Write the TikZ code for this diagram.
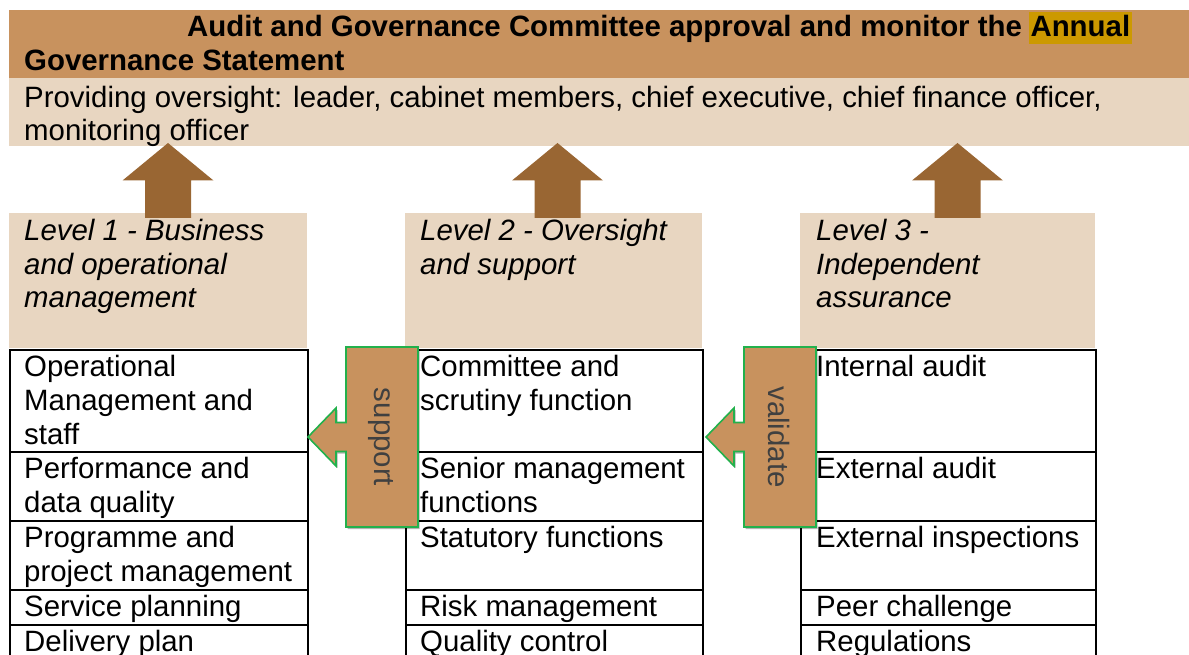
\documentclass[tikz,border=0pt]{standalone}
\usepackage{fontspec}
\setmainfont{Liberation Sans}
\usetikzlibrary{shadows}

\definecolor{bandDark}{RGB}{200,146,94}
\definecolor{bandLight}{RGB}{232,214,193}
\definecolor{arrowBrown}{RGB}{153,102,51}
\definecolor{hiGold}{RGB}{204,153,0}
\definecolor{calloutGreen}{RGB}{34,177,76}
\definecolor{calloutText}{RGB}{64,64,64}

% strut that gives the first line of a text block its full ascent
\newcommand{\fl}{\rule{0pt}{26.4pt}}
\newcommand{\bodyfont}{\fontsize{29.4}{33.6}\selectfont}

\begin{document}
\begin{tikzpicture}[x=1pt,y=-1pt,
  txt/.style={inner sep=0pt,align=left,font=\bodyfont},
  boxtext/.style={txt,anchor=north west},
  lvlhead/.style={fill=bandLight,draw=none,anchor=north west,inner sep=0pt,minimum height=135pt},
  cellbox/.style={draw=black,line width=1.5pt,anchor=north west,inner sep=0pt},
  uparrow/.style={fill=arrowBrown,draw=none},
  callout/.style={fill=bandDark,draw=calloutGreen,line width=1.6pt,line join=miter,
    drop shadow={shadow xshift=1.5pt,shadow yshift=-2pt,opacity=0.3,fill=black}},
  callouttext/.style={txt,rotate=-90,text=calloutText}
]
\useasboundingbox (0,0) rectangle (1189,655);
\clip (0,0) rectangle (1189,655);

% ---- committee band ----
\node (band) [fill=bandDark,anchor=north west,inner sep=0pt,minimum width=1181pt,minimum height=68pt] at (8.5,10) {};
\node (bandlow) [fill=bandLight,anchor=north west,inner sep=0pt,minimum width=1181pt,minimum height=68pt] at (8.5,78) {};

\node (title1) [txt,anchor=base west,font=\bodyfont\bfseries] at (187,37)
  {Audit and Governance Committee approval and monitor the};
\node (title2) [txt,anchor=base west,fill=hiGold,inner xsep=2pt,font=\bodyfont\bfseries]
  at ([xshift=6.2pt]title1.base east) {\rule[-7pt]{0pt}{32pt}Annual};
\node (title3) [txt,anchor=base west,font=\bodyfont\bfseries] at (24,70.6)
  {Governance Statement};
\node (oversight) [boxtext] at (24,80.8)
  {\fl Providing oversight: leader, cabinet members, chief executive, chief finance officer,\\monitoring officer};

% ---- level headers ----
\node (lv1) [lvlhead,minimum width=298pt] at (9,213) {};
\node (lv2) [lvlhead,minimum width=297pt] at (405,213) {};
\node (lv3) [lvlhead,minimum width=295pt] at (800,213) {};
\node (lv1t) [boxtext,font=\bodyfont\itshape] at (24,213.8)
  {\fl Level 1 - Business\\and operational\\management};
\node (lv2t) [boxtext,font=\bodyfont\itshape] at (420,213.8)
  {\fl Level 2 - Oversight\\and support};
\node (lv3t) [boxtext,font=\bodyfont\itshape] at (816,213.8)
  {\fl Level 3 -\\Independent\\assurance};

% ---- upward arrows into the band ----
\foreach \cx in {168, 557.5, 957.5}{
  \fill[uparrow] (\cx,143) -- (\cx+45.5,180.5) -- (\cx+23,180.5) -- (\cx+23,218)
    -- (\cx-23,218) -- (\cx-23,180.5) -- (\cx-45.5,180.5) -- cycle;
}

% ---- table cells ----
\foreach \x/\w/\c in {9/298/1, 405/297/2, 800/295/3}{
  \node (r1c\c) [cellbox,minimum width=\w pt,minimum height=102pt] at (\x,349) {};
  \node (r2c\c) [cellbox,minimum width=\w pt,minimum height=69pt] at (\x,451) {};
  \node (r3c\c) [cellbox,minimum width=\w pt,minimum height=69pt] at (\x,520) {};
  \node (r4c\c) [cellbox,minimum width=\w pt,minimum height=35pt] at (\x,589) {};
  \node (r5c\c) [cellbox,minimum width=\w pt,minimum height=60pt] at (\x,624) {};
}

% column 1
\node (t11) [boxtext] at (24,350.3) {\fl Operational\\Management and\\staff};
\node (t21) [boxtext] at (24,452.3) {\fl Performance and\\data quality};
\node (t31) [boxtext] at (24,521.3) {\fl Programme and\\project management};
\node (t41) [boxtext] at (24,590.3) {\fl Service planning};
\node (t51) [boxtext] at (24,625.3) {\fl Delivery plan};
% column 2
\node (t12) [boxtext] at (420,350.3) {\fl Committee and\\scrutiny function};
\node (t22) [boxtext] at (420,452.3) {\fl Senior management\\functions};
\node (t32) [boxtext] at (420,521.3) {\fl Statutory functions};
\node (t42) [boxtext] at (420,590.3) {\fl Risk management};
\node (t52) [boxtext] at (420,625.3) {\fl Quality control};
% column 3
\node (t13) [boxtext] at (816,350.3) {\fl Internal audit};
\node (t23) [boxtext] at (816,452.3) {\fl External audit};
\node (t33) [boxtext] at (816,521.3) {\fl External inspections};
\node (t43) [boxtext] at (816,590.3) {\fl Peer challenge};
\node (t53) [boxtext] at (816,625.3) {\fl Regulations};

% ---- left-pointing callouts ----
\path[callout] (418,347) -- (346,347) -- (346,422.5) -- (336,422.5) -- (336,408)
  -- (308,437) -- (336,466) -- (336,451.5) -- (346,451.5) -- (346,527) -- (418,527) -- cycle;
\node (support) [callouttext] at (381,437) {support};

\path[callout] (816,347) -- (744,347) -- (744,422.5) -- (734,422.5) -- (734,408)
  -- (706,437) -- (734,466) -- (734,451.5) -- (744,451.5) -- (744,527) -- (816,527) -- cycle;
\node (validate) [callouttext] at (779,437) {validate};
\end{tikzpicture}
\end{document}
